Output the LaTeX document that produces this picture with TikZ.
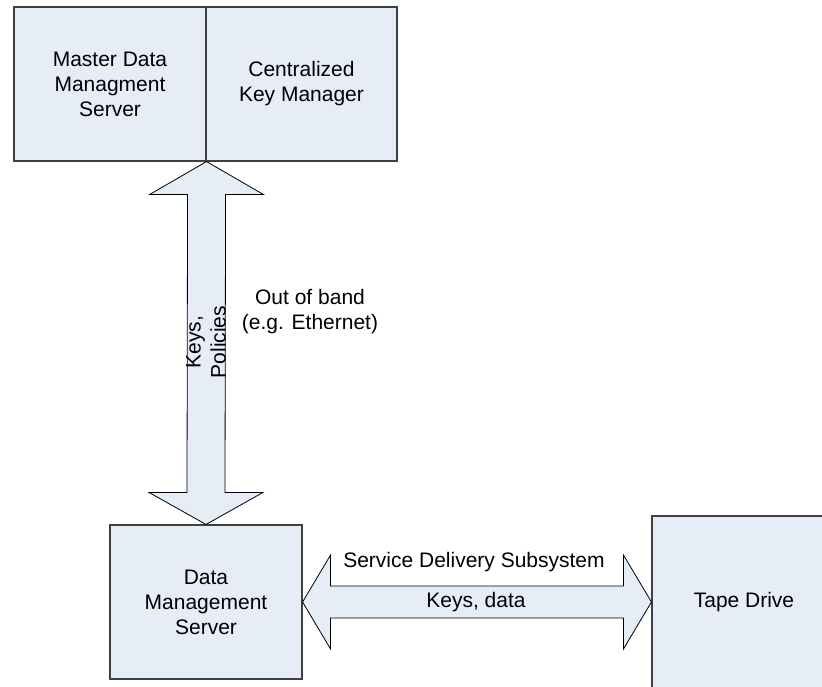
\documentclass[tikz,border=0pt]{standalone}
\usepackage{fontspec}
\setmainfont{Liberation Sans}
\usepackage{tikz}
\usetikzlibrary{positioning,calc}
\usepackage{xcolor}
\definecolor{dmlightblue}{RGB}{231,237,247}
\definecolor{dmborder}{RGB}{64,64,64}
\tikzstyle{server} = [rectangle, inner sep=0pt, text centered, align=center, draw=dmborder, fill=dmlightblue, line width=1.1pt, font=\fontsize{21}{25}\selectfont]
\tikzstyle{blockarrow} = [draw=black, fill=dmlightblue, line width=0.8pt, line join=miter]
\tikzstyle{label} = [align=center, inner sep=0pt, font=\fontsize{21}{25}\selectfont]

\begin{document}
\begin{tikzpicture}[x=1pt, y=-1pt]
\useasboundingbox (0,0) rectangle (822,687);
% Servers
\node (mdms) [server, minimum width=192pt, minimum height=154pt] at (110,84) {Master Data\\Managment\\Server};
\node (ckm) [server, right of=mdms, node distance=191.5pt, minimum width=191pt, minimum height=154pt] {Centralized\\Key Manager};
\node (dms) [server, minimum width=192pt, minimum height=154pt] at (206,602) {Data\\Management\\Server};
\node (tape) [server, right of=dms, node distance=538pt, minimum width=184pt, minimum height=172pt] {Tape Drive};

% Block arrows
\draw[blockarrow] (mdms.south east) -- ++(57,33) -- ++(-38,0) -- ($(dms.north)+(19,-32)$) -- ++(38,0) -- (dms.north) -- ++(-57,-32) -- ++(38,0) -- ($(mdms.south east)+(-19,33)$) -- ++(-38,0) -- cycle;
\draw[blockarrow] (dms.east) -- ++(28,-47) -- ++(0,31) -- ($(tape.west)+(-28,-16)$) -- ++(0,-31) -- (tape.west) -- ++(-28,47) -- ++(0,-31) -- ($(dms.east)+(28,16)$) -- ++(0,31) -- cycle;

% Labels
\node (keyspol) [label, rotate=90] at (206,342) {Keys,\\Policies};
\node (oob) [label] at (310,312) {Out of band\\(e.g. Ethernet)};
\node (sds) [label] at (474,562) {Service Delivery Subsystem};
\node (keysdata) [label] at (476,602) {Keys, data};
\end{tikzpicture}
\end{document}
